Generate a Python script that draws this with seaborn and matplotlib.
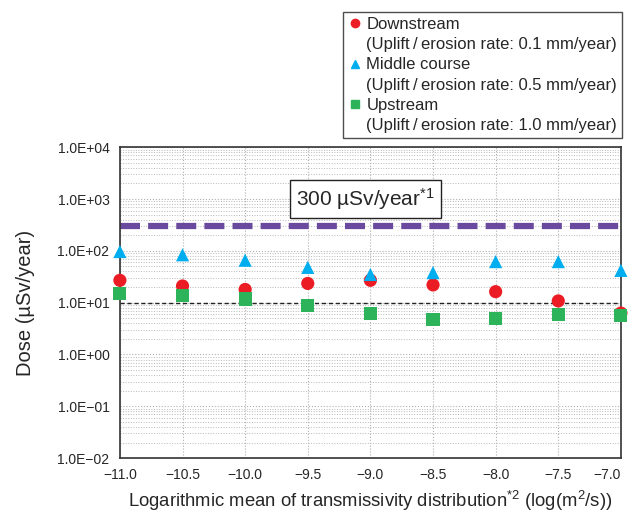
import numpy as np
import pandas as pd
import matplotlib.pyplot as plt
import matplotlib.ticker as mticker
from matplotlib.lines import Line2D
import seaborn as sns

# Values
transmissivity = [-11.0, -10.5, -10.0, -9.5, -9.0, -8.5, -8.0, -7.5, -7.0]
downstream = [27, 21, 18, 23.5, 27, 22, 16.3, 10.8, 6.3]
middle_course = [97, 84, 66, 48, 35, 38, 62, 62, 42]
upstream = [15, 14, 11.8, 8.7, 6.2, 4.8, 5.0, 6.0, 5.6]
series_names = ['Downstream', 'Middle course', 'Upstream']
series_rates = ['0.1', '0.5', '1.0']
target_dose = 300
reference_dose = 10
y_ticks = [1e-2, 1e-1, 1e0, 1e1, 1e2, 1e3, 1e4]

colors = {'Downstream': '#ec1c24', 'Middle course': '#00aeef', 'Upstream': '#2db35a'}
markers = {'Downstream': 'o', 'Middle course': '^', 'Upstream': 's'}

df = pd.DataFrame({
    'x': transmissivity * 3,
    'dose': downstream + middle_course + upstream,
    'series': np.repeat(series_names, len(transmissivity)),
})

sns.set_style('white')
plt.rcParams['font.family'] = ['Liberation Sans', 'DejaVu Sans']
plt.rcParams['mathtext.default'] = 'regular'

fig = plt.figure(figsize=(6.31, 5.13), dpi=100)
ax = fig.add_axes([0.19, 0.107, 0.794, 0.606])

ax.set_yscale('log')
ax.set_ylim(1e-2, 1e4)
ax.set_xlim(-11.0, -7.0)

# grid
ax.yaxis.set_minor_locator(mticker.LogLocator(base=10, subs=np.arange(2, 10)))
ax.grid(which='major', axis='both', color='#b0b0b0', linestyle=':', linewidth=0.8)
ax.grid(which='minor', axis='y', color='#b8b8b8', linestyle=':', linewidth=0.7)
ax.set_axisbelow(True)

ax.axhline(target_dose, color='#6a4a9e', linestyle=(0, (3.2, 1.3)), linewidth=4.5, zorder=2)
ax.axhline(reference_dose, color='#222222', linestyle=(0, (3, 2)), linewidth=1.0, zorder=2)

sns.scatterplot(data=df, x='x', y='dose', hue='series', style='series',
                palette=colors, markers=markers, s=90, linewidth=0,
                legend=False, ax=ax, zorder=3, clip_on=False)

ax.set_xticks(np.arange(-11.0, -6.9, 0.5))
ax.set_xticklabels([f'{v:.1f}'.replace('-', '\u2212') for v in np.arange(-11.0, -6.9, 0.5)])
ax.set_yticks(y_ticks)
ax.set_yticklabels([f'1.0E{int(np.log10(v)):+03d}'.replace('-', '\u2212') for v in y_ticks])
ax.tick_params(axis='both', which='major', labelsize=10, length=4, color='#333333', direction='out')
ax.tick_params(axis='y', which='minor', length=0)
ax.tick_params(axis='x', pad=3)
xt = ax.get_xticklabels()
xt[-1].set_horizontalalignment('right')
xt[-1].set_x(-7.0)
for s in ax.spines.values():
    s.set_color('#333333')
    s.set_linewidth(1.2)

ax.set_xlabel('Logarithmic mean of transmissivity distribution$^{*2}$ (log(m$^2$/s))',
              fontsize=13.3, labelpad=5)
ax.set_ylabel('Dose (\u00b5Sv/year)', fontsize=14.5, labelpad=16)

ax.text(-9.04, 1000, '300 \u00b5Sv/year$^{*1}$', fontsize=15, ha='center', va='center',
        bbox=dict(boxstyle='square,pad=0.3', facecolor='white', edgecolor='#222222', linewidth=1.0),
        zorder=4)

# legend: marker on first line, rate on second line
handles, labels = [], []
for name, rate in zip(series_names, series_rates):
    handles.append(Line2D([], [], linestyle='none', marker=markers[name], color=colors[name],
                          markersize=6))
    labels.append(name)
    handles.append(Line2D([], [], linestyle='none'))
    labels.append(f'(Uplift\u2009/\u2009erosion rate: {rate} mm/year)')
leg = fig.legend(handles, labels, loc='upper right', bbox_to_anchor=(0.986, 0.977),
                 borderaxespad=0, fontsize=12, frameon=True, fancybox=False,
                 edgecolor='#222222', handlelength=0.8, handletextpad=0.3,
                 labelspacing=0.32, borderpad=0.3)
leg.get_frame().set_linewidth(1.0)

fig.savefig('out.png', dpi=100)
